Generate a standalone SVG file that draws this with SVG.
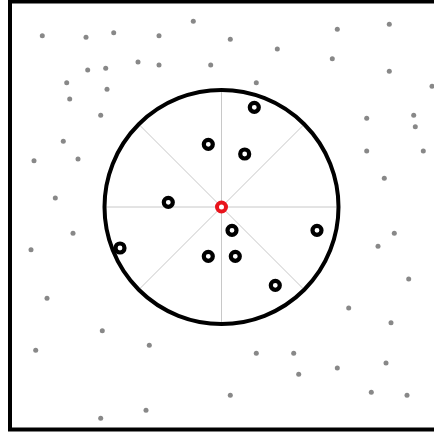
<svg xmlns="http://www.w3.org/2000/svg" width="434" height="434" viewBox="0 0 434 434">
<style>
.dot{fill:#888}
.ring{fill:#fff;stroke:#000;stroke-width:4.2}
.spoke{stroke:#c8c8c8;stroke-width:1}
</style>
<rect x="0" y="0" width="434" height="434" fill="#fff"/>
<rect x="10" y="1.5" width="440" height="428" fill="none" stroke="#000" stroke-width="4"/>
<g id="background-dots">
<circle class="dot" cx="42.3" cy="35.7" r="2.5"/>
<circle class="dot" cx="86" cy="37.3" r="2.5"/>
<circle class="dot" cx="113.7" cy="32.7" r="2.5"/>
<circle class="dot" cx="159" cy="35.7" r="2.5"/>
<circle class="dot" cx="193.3" cy="21.3" r="2.5"/>
<circle class="dot" cx="138" cy="62" r="2.5"/>
<circle class="dot" cx="159" cy="65" r="2.5"/>
<circle class="dot" cx="210.7" cy="65" r="2.5"/>
<circle class="dot" cx="87.7" cy="70" r="2.5"/>
<circle class="dot" cx="105.7" cy="68.3" r="2.5"/>
<circle class="dot" cx="66.7" cy="82.7" r="2.5"/>
<circle class="dot" cx="107" cy="89.3" r="2.5"/>
<circle class="dot" cx="69.7" cy="99" r="2.5"/>
<circle class="dot" cx="100.7" cy="115.3" r="2.5"/>
<circle class="dot" cx="63.3" cy="141.3" r="2.5"/>
<circle class="dot" cx="34" cy="160.7" r="2.5"/>
<circle class="dot" cx="78" cy="159" r="2.5"/>
<circle class="dot" cx="55.3" cy="198" r="2.5"/>
<circle class="dot" cx="230.3" cy="39.3" r="2.5"/>
<circle class="dot" cx="277.3" cy="49" r="2.5"/>
<circle class="dot" cx="337.3" cy="29.3" r="2.5"/>
<circle class="dot" cx="389.3" cy="24.3" r="2.5"/>
<circle class="dot" cx="332.3" cy="58.7" r="2.5"/>
<circle class="dot" cx="389.3" cy="71.3" r="2.5"/>
<circle class="dot" cx="432" cy="86.3" r="2.5"/>
<circle class="dot" cx="256.3" cy="82.7" r="2.5"/>
<circle class="dot" cx="366.7" cy="118.3" r="2.5"/>
<circle class="dot" cx="413.7" cy="115.3" r="2.5"/>
<circle class="dot" cx="415.3" cy="126.7" r="2.5"/>
<circle class="dot" cx="366.7" cy="151" r="2.5"/>
<circle class="dot" cx="423.3" cy="151" r="2.5"/>
<circle class="dot" cx="384.3" cy="178.3" r="2.5"/>
<circle class="dot" cx="73" cy="233.3" r="2.5"/>
<circle class="dot" cx="31" cy="249.7" r="2.5"/>
<circle class="dot" cx="47" cy="298.3" r="2.5"/>
<circle class="dot" cx="102.3" cy="330.7" r="2.5"/>
<circle class="dot" cx="149.3" cy="345.3" r="2.5"/>
<circle class="dot" cx="35.7" cy="350.3" r="2.5"/>
<circle class="dot" cx="146" cy="410.3" r="2.5"/>
<circle class="dot" cx="100.7" cy="418.3" r="2.5"/>
<circle class="dot" cx="394.3" cy="233.3" r="2.5"/>
<circle class="dot" cx="378" cy="246.3" r="2.5"/>
<circle class="dot" cx="408.7" cy="279" r="2.5"/>
<circle class="dot" cx="348.7" cy="308" r="2.5"/>
<circle class="dot" cx="391" cy="322.7" r="2.5"/>
<circle class="dot" cx="256.3" cy="353.3" r="2.5"/>
<circle class="dot" cx="293.7" cy="353.3" r="2.5"/>
<circle class="dot" cx="298.7" cy="374.3" r="2.5"/>
<circle class="dot" cx="337.3" cy="368" r="2.5"/>
<circle class="dot" cx="386" cy="363" r="2.5"/>
<circle class="dot" cx="230.3" cy="395.3" r="2.5"/>
<circle class="dot" cx="371.3" cy="392.3" r="2.5"/>
<circle class="dot" cx="407" cy="395.3" r="2.5"/>
</g>
<g id="connectors">
<line class="spoke" x1="104.5" y1="207" x2="338.5" y2="207"/>
<line class="spoke" x1="221.5" y1="90" x2="221.5" y2="324"/>
<line class="spoke" x1="138.8" y1="124.3" x2="304.2" y2="289.7"/>
<line class="spoke" x1="304.2" y1="124.3" x2="138.8" y2="289.7"/>
</g>
<g id="range-circle">
<circle cx="221.5" cy="207" r="117" fill="none" stroke="#000" stroke-width="4"/>
</g>
<g id="neighbors">
<circle class="ring" cx="208.3" cy="144.3" r="4.5"/>
<circle class="ring" cx="168.3" cy="202.3" r="4.5"/>
<circle class="ring" cx="254.3" cy="107.3" r="4.5"/>
<circle class="ring" cx="244.7" cy="154" r="4.5"/>
<circle class="ring" cx="120" cy="248" r="4.5"/>
<circle class="ring" cx="208.3" cy="256.3" r="4.5"/>
<circle class="ring" cx="232" cy="230.3" r="4.5"/>
<circle class="ring" cx="235.3" cy="256.3" r="4.5"/>
<circle class="ring" cx="317" cy="230.3" r="4.5"/>
<circle class="ring" cx="275.3" cy="285.3" r="4.5"/>
</g>
<g id="query-point">
<circle cx="221.5" cy="207" r="4.5" fill="#fff" stroke="#e8141c" stroke-width="4"/>
</g>
</svg>
